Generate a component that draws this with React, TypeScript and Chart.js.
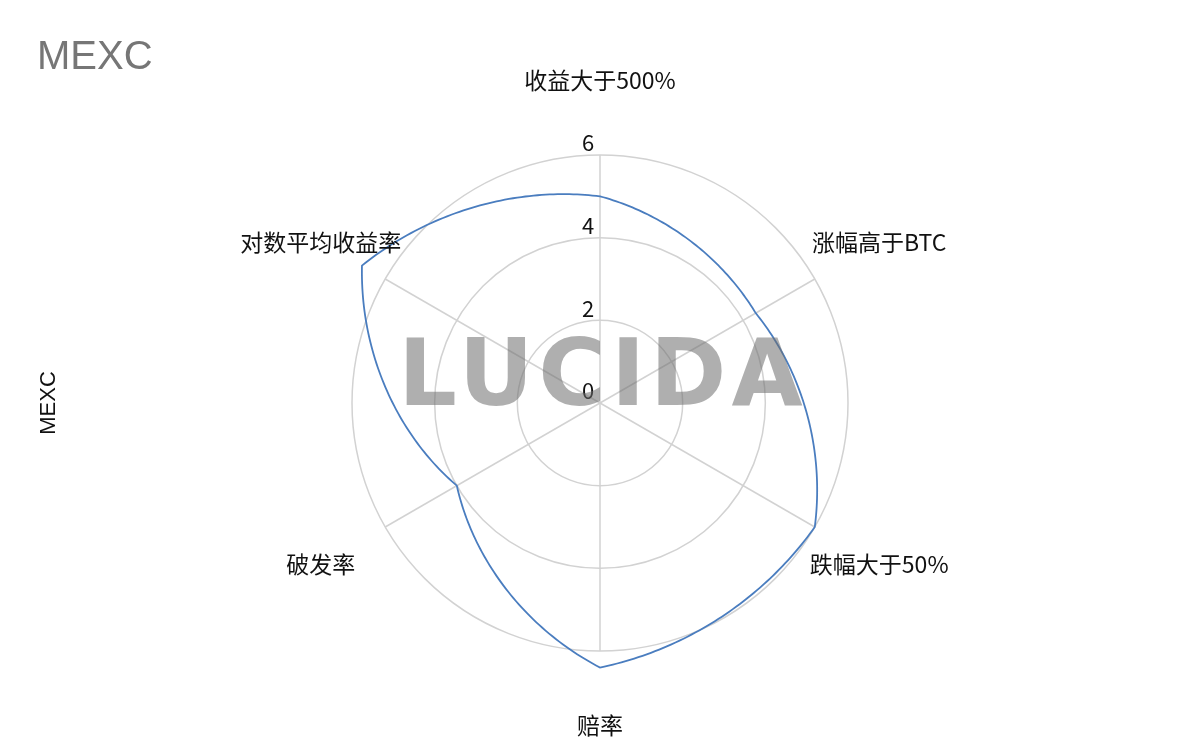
import { useEffect, useRef } from 'react';
import { Chart, registerables } from 'chart.js';

Chart.register(...registerables);

const categories = ['收益大于500%', '涨幅高于BTC', '跌幅大于50%', '赔率', '破发率', '对数平均收益率'];
const values = [5.0, 4.35, 6.0, 6.4, 4.0, 6.65];
const tickValues = [0, 2, 4, 6];
const chartTitle = 'MEXC';
const axisTitle = 'MEXC';
const watermarkText = 'LUCIDA';

const LINE_COLOR = '#4a7dbf';
const GRID_COLOR = '#d2d2d2';
const CJK_FONT = '"Noto Sans CJK SC", "Noto Sans", sans-serif';
const LATIN_FONT = '"Liberation Sans", Arial, sans-serif';
const CURVE_BEND = 0.7; // 0 = straight chords, 1 = pure polar interpolation

const decorPlugin = {
  id: 'polarDecor',
  afterDatasetsDraw(chart: any) {
    const scale = chart.scales.r;
    const ctx: CanvasRenderingContext2D = chart.ctx;
    const data: number[] = chart.data.datasets[0].data as number[];
    const n = data.length;
    ctx.save();

    // curved line between the data points, drawn through the radial scale
    ctx.beginPath();
    const steps = 60;
    for (let i = 0; i < n; i++) {
      const v0 = data[i];
      const v1 = data[(i + 1) % n];
      const p0 = scale.getPointPosition(i, scale.getDistanceFromCenterForValue(v0));
      const p1 = scale.getPointPosition(i + 1, scale.getDistanceFromCenterForValue(v1));
      for (let s = 0; s <= steps; s++) {
        const t = s / steps;
        const d = scale.getDistanceFromCenterForValue(v0 + (v1 - v0) * t);
        const pp = scale.getPointPosition(i + t, d);
        const cx = p0.x + (p1.x - p0.x) * t;
        const cy = p0.y + (p1.y - p0.y) * t;
        const x = cx + (pp.x - cx) * CURVE_BEND;
        const y = cy + (pp.y - cy) * CURVE_BEND;
        if (i === 0 && s === 0) ctx.moveTo(x, y);
        else ctx.lineTo(x, y);
      }
    }
    ctx.closePath();
    ctx.strokeStyle = LINE_COLOR;
    ctx.lineWidth = 1.8;
    ctx.lineJoin = 'miter';
    ctx.stroke();

    // tick labels (above each ring, left of the vertical spoke)
    ctx.fillStyle = '#111';
    ctx.font = `22px ${CJK_FONT}`;
    ctx.textAlign = 'center';
    ctx.textBaseline = 'middle';
    tickValues.forEach((v) => {
      const d = scale.getDistanceFromCenterForValue(v);
      ctx.fillText(String(v), scale.xCenter - 12, scale.yCenter - d - 12);
    });

    // point labels
    ctx.font = `23px ${CJK_FONT}`;
    chart.data.labels.forEach((label: string, i: number) => {
      const p = scale.getPointPosition(i, scale.drawingArea * 1.3);
      ctx.fillText(label, p.x, p.y);
    });

    // titles
    ctx.fillStyle = '#767676';
    ctx.font = `40px ${LATIN_FONT}`;
    ctx.textAlign = 'left';
    ctx.textBaseline = 'alphabetic';
    ctx.fillText(chartTitle, 37, 69);

    ctx.save();
    ctx.translate(55, scale.yCenter);
    ctx.rotate(-Math.PI / 2);
    ctx.fillStyle = '#111';
    ctx.font = `22px ${LATIN_FONT}`;
    ctx.textAlign = 'center';
    ctx.fillText(axisTitle, 0, 0);
    ctx.restore();

    // watermark
    ctx.fillStyle = 'rgba(110,110,110,0.55)';
    ctx.font = `bold 92px "DejaVu Sans", ${LATIN_FONT}`;
    (ctx as any).letterSpacing = '5px';
    ctx.textAlign = 'center';
    ctx.textBaseline = 'alphabetic';
    ctx.fillText(watermarkText, scale.xCenter + 3, scale.yCenter + 2);
    ctx.restore();
  },
};

export default function App() {
  const canvasRef = useRef<HTMLCanvasElement | null>(null);

  useEffect(() => {
    if (!canvasRef.current) return;
    const chart = new Chart(canvasRef.current, {
      type: 'radar',
      data: {
        labels: categories,
        datasets: [
          {
            label: 'MEXC',
            data: values,
            borderColor: 'rgba(0,0,0,0)',
            backgroundColor: 'rgba(0,0,0,0)',
            borderWidth: 0,
            pointRadius: 0,
            fill: false,
          },
        ],
      },
      options: {
        responsive: false,
        animation: false,
        layout: { padding: { top: 155, bottom: 91, left: 0, right: 0 } },
        plugins: {
          legend: { display: false },
          tooltip: { enabled: false },
          title: { display: false },
        },
        scales: {
          r: {
            min: 0,
            max: 6,
            ticks: { display: false, stepSize: 2 },
            pointLabels: { display: false },
            grid: { color: GRID_COLOR, lineWidth: 1.5, circular: true },
            angleLines: { color: GRID_COLOR, lineWidth: 1.5 },
          },
        },
      },
      plugins: [decorPlugin],
    });
    return () => chart.destroy();
  }, []);

  return (
    <div style={{ position: 'fixed', left: 0, top: 0, width: 1200, height: 742, background: '#fff' }}>
      <canvas ref={canvasRef} width={1200} height={742} style={{ display: 'block' }} />
    </div>
  );
}
